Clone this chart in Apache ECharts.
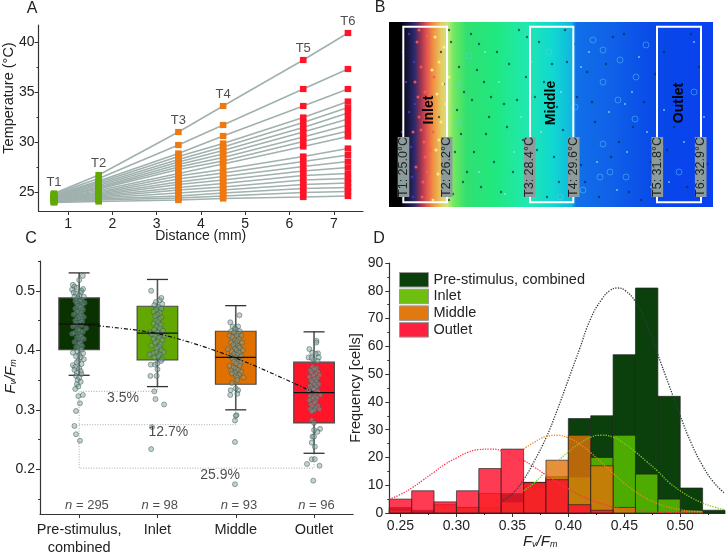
<!DOCTYPE html>
<html><head><meta charset="utf-8">
<style>html,body{margin:0;padding:0;background:#fff}#c{width:727px;height:553px}</style>
<script src="https://cdn.jsdelivr.net/npm/echarts@6/dist/echarts.min.js"></script>
</head><body><div id="c"></div>
<script>
// ---------- Panel A data ----------
const distances = [0.68, 1.69, 3.49, 4.5, 6.31, 7.32];
const tempLabels = ['T1','T2','T3','T4','T5','T6'];
const T1 = [24.85,24.8,24.7,24.65,24.6,24.55,24.5,24.45,24.4,24.35,24.3,24.3,24.25,24.2,24.2,24.15,24.1,24.05,24.0,23.95];
const T2 = [26.7,26.35,26.1,25.95,25.8,25.65,25.5,25.4,25.3,25.15,25.0,24.9,24.8,24.7,24.6,24.5,24.4,24.3,24.2,24.05];
const T3 = [31.0,29.7,28.85,28.55,28.25,28.0,27.75,27.5,27.25,26.85,26.6,26.3,26.0,25.75,25.45,25.2,24.9,24.6,24.4,24.2];
const T4 = [33.6,31.7,30.6,29.85,29.5,29.15,28.8,28.45,28.1,27.8,27.25,26.9,26.55,26.2,25.85,25.5,25.2,24.9,24.6,24.35];
const T5 = [38.2,35.3,33.6,32.45,31.95,31.45,31.0,30.5,30.05,29.55,28.55,28.05,27.55,27.1,26.65,26.2,25.75,25.35,24.95,24.5];
const T6 = [40.9,37.3,35.3,34.05,33.45,32.9,32.3,31.7,31.1,30.55,29.35,28.7,28.05,27.45,26.85,26.35,25.9,25.45,25.05,24.6];
const tempRows = [T1,T2,T3,T4,T5,T6];
const tempTop = [24.85,26.7,31.0,33.6,38.2,40.9];

// ---------- Panel B data (image-like map, specks in image pixels) ----------
const zoneLabels = ['Inlet','Middle','Outlet'];
const probeLabels = ['T1: 25.0°C','T2: 26.2°C','T3: 28.4°C','T4: 29.6°C','T5: 31.8°C','T6: 32.9°C'];
const rings = [[80,34],[221,150],[214,122],[214,60],[247,55],[246,97],[231,38],[229,78],[214,28],[257,23],[204,18],[194,168],[171,175],[69,100],[69,62],[271,125],[237,155],[211,155],[186,85],[290,150],[305,70],[160,30]];
const darkSpecks = [[62,20],[70,45],[75,70],[68,88],[72,112],[66,130],[78,150],[64,172],[90,22],[95,60],[100,95],[105,140],[112,170],[120,42],[128,78],[134,118],[142,150],[150,20],[155,60],[146,75],[160,100],[165,135],[170,160],[178,40],[182,120],[176,8],[188,75],[192,143],[198,50],[206,100],[210,175],[224,15],[230,120],[240,170],[255,80],[262,140],[275,30],[285,105],[298,165],[310,45],[52,30],[55,62],[50,95],[58,120],[54,150],[60,178],[85,130],[118,105],[138,15],[168,85],[82,12],[88,48],[83,78],[97,112],[92,165],[108,30],[115,82],[124,150],[130,8],[137,55],[148,128],[158,175],[163,42],[174,108],[185,22],[196,160],[203,80],[217,42],[222,135],[235,12],[244,105],[252,178],[266,52],[278,128],[292,75],[302,12],[318,142],[60,8],[74,160],[102,75]];
const lightSpecks = [[90,150],[110,60],[125,130],[152,110],[172,70],[200,30],[220,90],[238,130],[250,35],[268,70],[280,160],[295,120],[305,20],[315,95],[262,165],[243,70],[228,168],[208,140],[96,30],[132,95],[142,40],[116,172],[188,120],[192,45],[236,82],[258,110],[275,88],[310,170]];
const redSpecks = [[28,20],[32,45],[36,70],[30,95],[35,120],[38,150],[33,175],[40,32],[42,85],[44,110],[40,165],[30,8],[36,135],[26,60],[27,145],[34,160],[45,55],[24,110],[38,14],[29,75],[41,128],[32,108]];
const yellowSpecks = [[46,15],[50,40],[48,72],[52,100],[47,128],[53,160],[44,178],[55,25],[57,82],[56,140],[50,118],[43,48],[58,170],[60,55],[49,152],[54,62]];
const blueSpecks = [[14,30],[17,60],[20,90],[22,125],[16,150],[24,175],[20,12],[25,40],[13,110],[19,168],[26,82],[23,155]];

// ---------- Panel C data ----------
const groupLabels = ['Pre-stimulus,\ncombined','Inlet','Middle','Outlet'];
const boxStats = [[0,0.358,0.401,0.444,0.488,0.530],[1,0.339,0.384,0.429,0.474,0.519],[2,0.300,0.343,0.388,0.432,0.475],[3,0.227,0.278,0.329,0.380,0.431]];
const boxColors = ['#0a3200','#62a800','#e07000','#ff1428'];
const medianTrend = [[0,0.444],[1,0.428],[2,0.387],[3,0.329]];
const ptsPre = [[.047,.525],[0,.518],[-.08,.51],[-.06,.507],[-.03,.505],[.05,.503],[.03,.5],[-.09,.502],[-.07,.497],[-.04,.495],[.02,.497],[0,.492],[-.06,.49],[.06,.49],[-.02,.487],[.03,.485],[-.05,.483],[.01,.482],[.07,.48],[-.03,.478],[.04,.476],[-.01,.474],[.02,.472],[-.05,.47],[.05,.468],[0,.466],[-.03,.464],[.03,.462],[-.07,.46],[.01,.458],[.06,.456],[-.02,.455],[.02,.452],[-.05,.45],[.04,.448],[0,.446],[-.04,.444],[.03,.442],[-.08,.44],[.09,.437],[-.02,.436],[.01,.433],[.05,.431],[-.05,.43],[-.09,.428],[0,.426],[.03,.423],[-.03,.421],[.06,.419],[.01,.417],[-.06,.414],[.02,.412],[-.01,.41],[.04,.407],[-.04,.405],[0,.403],[.03,.401],[-.02,.398],[-.08,.396],[.05,.395],[0,.392],[-.04,.39],[.02,.388],[.06,.385],[-.01,.382],[-.03,.38],[.03,.377],[-.08,.375],[-.05,.372],[0,.37],[-.06,.367],[.02,.365],[-.03,.362],[.03,.36],[-.04,.357],[0,.354],[-.02,.35],[.02,.347],[-.03,.343],[-.01,.339],[-.05,.335],[.047,.325],[-.01,.323],[.01,.311],[-.04,.298],[-.06,.273],[-.04,.259],[.01,.248]];
const ptsInlet = [[-.08,.5],[.05,.488],[.03,.484],[-.02,.481],[.06,.478],[-.04,.476],[.01,.473],[.05,.47],[-.02,.468],[-.05,.465],[.03,.463],[0,.46],[-.03,.457],[.05,.455],[.02,.452],[-.02,.45],[.01,.447],[-.05,.445],[.04,.443],[-.01,.44],[.03,.437],[-.04,.435],[.07,.433],[-.1,.43],[0,.43],[-.07,.427],[.04,.426],[.09,.425],[-.03,.424],[.02,.421],[-.05,.419],[.06,.417],[0,.415],[-.03,.413],[.04,.41],[-.08,.408],[.02,.406],[-.01,.403],[.05,.4],[.08,.397],[-.02,.397],[.03,.393],[-.06,.395],[-.1,.393],[.01,.39],[-.04,.388],[.06,.385],[.045,.382],[-.085,.376],[-.03,.376],[0,.378],[-.09,.357],[-.01,.357],[0,.368],[-.04,.331],[-.025,.318],[.085,.309],[-.07,.271],[-.08,.234]];
const ptsMiddle = [[-.07,.447],[.047,.459],[-.04,.44],[-.01,.437],[.03,.44],[0,.435],[-.06,.432],[.05,.432],[-.02,.43],[.03,.428],[-.08,.425],[.07,.425],[.01,.424],[-.04,.422],[.04,.419],[-.01,.417],[.02,.415],[-.06,.413],[.08,.413],[0,.411],[-.03,.409],[.03,.407],[.05,.404],[-.01,.403],[.01,.4],[-.1,.402],[.09,.4],[-.05,.398],[.04,.396],[-.02,.394],[.02,.392],[.07,.39],[-.07,.39],[0,.388],[-.04,.386],[.03,.384],[-.02,.381],[.06,.379],[.01,.378],[-.08,.374],[.05,.374],[-.03,.371],[0,.369],[.03,.367],[-.06,.366],[.07,.364],[-.01,.363],[-.05,.361],[.04,.359],[0,.357],[.02,.354],[.1,.354],[.02,.35],[-.05,.345],[-.065,.333],[-.07,.325],[0,.336],[.03,.333],[.02,.327],[.01,.291],[0,.29],[-.01,.282],[-.01,.246],[-.01,.175]];
const ptsOutlet = [[.03,.416],[.03,.413],[-.06,.402],[-.025,.396],[.05,.395],[.02,.394],[-.07,.388],[-.03,.387],[.06,.388],[0,.384],[.045,.382],[-.02,.372],[.03,.37],[0,.368],[-.05,.366],[.05,.364],[-.03,.362],[.02,.36],[.07,.358],[-.01,.357],[-.06,.355],[.04,.353],[0,.351],[-.04,.349],[.03,.347],[-.02,.345],[.06,.343],[.01,.342],[-.05,.34],[.03,.338],[-.02,.336],[0,.334],[-.07,.333],[.05,.331],[-.03,.329],[.02,.327],[.08,.325],[-.05,.323],[0,.322],[.04,.32],[-.02,.318],[-.06,.316],[.02,.314],[0,.311],[-.04,.309],[.05,.307],[-.02,.305],[.02,.303],[-.05,.301],[.07,.301],[0,.299],[-.03,.297],[-.03,.283],[0,.278],[0,.266],[.077,.268],[.043,.263],[-.02,.255],[-.03,.245],[.01,.238],[0,.255],[-.03,.217],[.01,.217],[-.09,.209],[.07,.206],[-.01,.181]];
const bracketA = [[1,.339],[1,.331],[0,.331],[0,.202],[3,.202],[3,.227]];
const bracketB = [[0,.275],[2,.275],[2,.30]];
const pctLabels = [[.56,.32,'3.5%'],[1.14,.263,'12.7%'],[1.8,.191,'25.9%']];
const nLabels = [[.1,'295'],[1.03,'98'],[2.04,'93'],[3.03,'96']];

// ---------- Panel D data ----------
const binStart = [.24,.26,.28,.30,.32,.34,.36,.38,.40,.42,.44,.46,.48,.50,.52];
const histPre    = [2,1,0,2,0,7,11,13,34,35,57,81,42,9,1];
const histInlet  = [0,0,0,2,2,4,9,13,13,20,28,14,5,1,0];
const histMiddle = [1,0,3,2,7,4,11,19,28,17,2,0,0,0,0];
const histOutlet = [5,8,4,8,16,23,11,12,3,1,0,0,0,0,0];
const fitPre = [[.34,4],[.35,7],[.36,12],[.37,19],[.38,27],[.39,37],[.40,48],[.41,59],[.42,70],[.43,77],[.437,80],[.444,81],[.451,80],[.46,76],[.47,68],[.48,57],[.49,46],[.50,35],[.51,25],[.52,17],[.53,11],[.54,7]];
const fitInlet = [[.36,8],[.37,11],[.38,15],[.39,18.5],[.40,22],[.41,25],[.42,27.3],[.43,28],[.44,27.3],[.45,25],[.46,22],[.47,18.5],[.48,15],[.49,11],[.50,8],[.51,5.5],[.52,3.6],[.53,2.2],[.54,1.2]];
const fitMiddle = [[.36,23],[.37,25.6],[.38,27.5],[.39,28],[.40,27],[.41,24.8],[.42,21.7],[.43,18],[.44,14.3],[.45,10.7],[.46,7.7],[.47,5.2],[.48,3.4],[.49,2.1],[.50,1.2],[.51,.7],[.52,.4]];
const fitOutlet = [[.24,5],[.25,6.7],[.26,9],[.27,11.8],[.28,14.7],[.29,17.6],[.30,19.8],[.31,21.8],[.32,22.8],[.33,23],[.34,22.5],[.35,21],[.36,19],[.37,16.4],[.38,13.7],[.39,11],[.40,8.7],[.41,6.5],[.42,4.7],[.43,3.3],[.44,2.2],[.45,1.4],[.46,.9],[.47,.5],[.48,.3],[.50,.1],[.52,0]];
const legendNames = ['Pre-stimulus, combined','Inlet','Middle','Outlet'];

// ---------- Tick lists ----------
const ticksAx = [1,2,3,4,5,6,7], ticksAy = [25,30,35,40], minorAy = [27.5,32.5,37.5];
const ticksCy = [.2,.3,.4,.5], minorCy = [.15,.25,.35,.45,.55];
const ticksDx = [.25,.30,.35,.40,.45,.50], minorDx = [.275,.325,.375,.425,.475,.525];

const FONT = '"Liberation Sans", Arial, sans-serif';
const AXC = '#333';
const chart = echarts.init(document.getElementById('c'), null, {renderer:'canvas'});

const hist = (vals) => vals.map((v,i)=>[binStart[i], binStart[i]+.02, v]);
function histRender(fill){
  return function(params, api){
    const a = api.coord([api.value(0), api.value(2)]);
    const b = api.coord([api.value(1), 0]);
    if (api.value(2) <= 0) return null;
    return {type:'rect', shape:{x:a[0], y:a[1], width:b[0]-a[0], height:b[1]-a[1]},
            style:{fill:fill, stroke:'rgba(35,35,35,.75)', lineWidth:.9}};
  };
}
function boxRender(params, api){
  const i = api.value(0);
  const c = v => api.coord([i, v]);
  const x = c(0)[0], lo=c(api.value(1))[1], q1=c(api.value(2))[1], q3=c(api.value(4))[1], hi=c(api.value(5))[1];
  const ln = (x1,y1,x2,y2,s,w)=>({type:'line',shape:{x1,y1,x2,y2},style:{stroke:s,lineWidth:w}});
  return {type:'group',children:[
    ln(x,lo,x,q1,'#555',1.6), ln(x,q3,x,hi,'#555',1.6),
    ln(x-10.5,lo,x+10.5,lo,'#333',1.3), ln(x-10.5,hi,x+10.5,hi,'#333',1.3),
    {type:'rect',shape:{x:x-20.3,y:q3,width:40.6,height:q1-q3},style:{fill:boxColors[i],stroke:'#4a4a4a',lineWidth:1.2}}
  ]};
}
function medianRender(params, api){
  const i = api.value(0); const p = api.coord([i, api.value(3)]);
  return {type:'line',shape:{x1:p[0]-20.3,y1:p[1],x2:p[0]+20.3,y2:p[1]},style:{stroke:'#111',lineWidth:1.3}};
}
const fvfm = {f:{fontStyle:'italic',fontSize:15,fontFamily:FONT,color:'#222'},
              s:{fontStyle:'italic',fontSize:9,fontFamily:FONT,color:'#222',verticalAlign:'bottom',lineHeight:9,padding:[5,0,0,0]}};
const fvfmText = '{f|F}{s|v}{f|/F}{s|m}';

const valueAxisBase = {type:'value',splitLine:{show:false},nameMoveOverlap:false,
  axisLine:{show:true,onZero:false,lineStyle:{color:AXC,width:1.2}},
  axisTick:{show:true,length:4,lineStyle:{color:AXC,width:1}},
  axisLabel:{color:'#222',fontFamily:FONT,fontSize:14,margin:6}};
const minorAxis = (o)=>Object.assign({type:'value',splitLine:{show:false},axisLine:{show:false,onZero:false},axisLabel:{show:false}},o);

const series = [];
// Panel A lines
T1.forEach((_,i)=>series.push({type:'line',xAxisIndex:0,yAxisIndex:0,symbol:'none',silent:true,z:2,
  lineStyle:{color:'#a0b1ae',width:1.6},data:distances.map((x,k)=>[x,tempRows[k][i]])}));
const markerColors = ['#62a800','#62a800','#f07810','#f07810','#ff1428','#ff1428'];
distances.forEach((x,k)=>series.push({type:'scatter',xAxisIndex:0,yAxisIndex:0,symbol:'rect',symbolSize:[6.6,6.2],z:3,
  itemStyle:{color:markerColors[k],opacity:1},data:tempRows[k].map(v=>[x,v])}));
series.push({type:'scatter',xAxisIndex:0,yAxisIndex:0,symbolSize:0,z:4,
  data:distances.map((x,k)=>({value:[x,tempTop[k]],label:{show:true,formatter:tempLabels[k],position:'top',distance:5,color:'#222',fontFamily:FONT,fontSize:13}}))});
// Panel B specks
const speck = (d,col,sz,op)=>({type:'scatter',xAxisIndex:1,yAxisIndex:2,symbolSize:sz,z:2,silent:true,itemStyle:{color:col,opacity:op},data:d});
series.push(speck(darkSpecks,'#06304a',2.4,.7), speck(lightSpecks,'#90f0f0',1.8,.8), speck(redSpecks,'#ff5a50',3,.9), speck(yellowSpecks,'#fff090',3,.9), speck(blueSpecks,'#4040c0',2.6,.8));
series.push({type:'scatter',xAxisIndex:1,yAxisIndex:2,symbolSize:6,z:2,silent:true,itemStyle:{color:'transparent',borderColor:'rgba(90,210,240,.6)',borderWidth:1},data:rings});
// Panel C
series.push({type:'line',xAxisIndex:3,yAxisIndex:3,symbol:'none',silent:true,z:2,lineStyle:{color:'#a8a8a8',width:1,type:[1,1.6]},data:bracketA});
series.push({type:'line',xAxisIndex:3,yAxisIndex:3,symbol:'none',silent:true,z:2,lineStyle:{color:'#a8a8a8',width:1,type:[1,1.6]},data:bracketB});
series.push({type:'custom',xAxisIndex:3,yAxisIndex:3,z:3,silent:true,renderItem:boxRender,data:boxStats,encode:{x:0,y:[1,2,3,4,5]}});
[ptsPre,ptsInlet,ptsMiddle,ptsOutlet].forEach((pts,i)=>series.push({type:'scatter',xAxisIndex:3,yAxisIndex:3,symbolSize:5,z:4,silent:true,
  itemStyle:{color:'rgba(130,160,155,.6)',borderColor:'rgba(60,90,85,.8)',borderWidth:.8},data:pts.map(p=>[i+p[0],p[1]])}));
series.push({type:'custom',xAxisIndex:3,yAxisIndex:3,z:5,silent:true,renderItem:medianRender,data:boxStats,encode:{x:0,y:3}});
series.push({type:'line',xAxisIndex:3,yAxisIndex:3,symbol:'none',smooth:.3,silent:true,z:6,lineStyle:{color:'#111',width:1.2,type:[4,2,1,2]},data:medianTrend});
series.push({type:'scatter',xAxisIndex:3,yAxisIndex:3,symbolSize:0,z:7,silent:true,
  data:pctLabels.map(p=>({value:[p[0],p[1]],label:{show:true,formatter:p[2],position:'inside',color:'#222',fontFamily:FONT,fontSize:14}}))});
series.push({type:'scatter',xAxisIndex:3,yAxisIndex:3,symbolSize:0,z:7,silent:true,
  data:nLabels.map(p=>({value:[p[0],.14],label:{show:true,position:'inside',formatter:'{i|n} = '+p[1],color:'#222',fontFamily:FONT,fontSize:13,rich:{i:{fontStyle:'italic',fontFamily:FONT,fontSize:13,color:'#222'}}}}))});
// Panel D
const histFills = ['rgb(11,63,11)','rgba(90,190,0,.85)','rgba(225,115,10,.8)','rgba(255,15,45,.82)'];
[histPre,histInlet,histMiddle,histOutlet].forEach((h,i)=>series.push({type:'custom',name:legendNames[i],xAxisIndex:4,yAxisIndex:5,z:2+i*.01,silent:true,
  itemStyle:{color:histFills[i]},renderItem:histRender(histFills[i]),data:hist(h),encode:{x:[0,1],y:2}}));
[[fitPre,'#2c3f3a'],[fitInlet,'#7fcc20'],[fitMiddle,'#ee8a20'],[fitOutlet,'#ff3050']].forEach(f=>series.push({type:'line',xAxisIndex:4,yAxisIndex:5,symbol:'none',smooth:.5,silent:true,z:3,
  lineStyle:{color:f[1],width:1.3,type:[1.3,1.3]},data:f[0]}));

// Graphic elements for panel letters and panel B image frame
const imgX=389, imgY=22, imgW=324, imgH=185;
const stops=[[0,'#000'],[.033,'#000'],[.053,'#101030'],[.08,'#302a70'],[.095,'#903050'],[.115,'#e05050'],[.136,'#f09040'],[.16,'#e8c860'],[.18,'#c8e880'],[.2,'#70e860'],[.24,'#30e070'],[.33,'#20e880'],[.425,'#20e8b0'],[.506,'#10d8d0'],[.563,'#10b8e0'],[.578,'#1070e8'],[.69,'#1060e8'],[.825,'#0848e8'],[1,'#0a40f0']];
const letter=(t,x,y)=>({type:'text',x,y,style:{text:t,font:'16px '+FONT,fill:'#222',align:'center',verticalAlign:'middle'}});
const graphicEls=[letter('A',32,9),letter('B',380,8),letter('C',31,239),letter('D',379,239),
 {type:'rect',z:0,shape:{x:imgX,y:imgY,width:imgW,height:imgH},style:{fill:new echarts.graphic.LinearGradient(0,0,1,0,stops.map(s=>({offset:s[0],color:s[1]})))}}];
[[403.3,447],[530,573.3],[657,701]].forEach(r=>graphicEls.push({type:'rect',z:10,shape:{x:r[0],y:26.7,width:r[1]-r[0],height:175.6},style:{fill:'none',stroke:'#fff',lineWidth:2}}));
[[428.7,110],[551,103],[679,103]].forEach((p,i)=>graphicEls.push({type:'text',z:11,x:p[0],y:p[1],rotation:Math.PI/2,style:{text:zoneLabels[i],font:'bold 14px '+FONT,fill:'#000',align:'center',verticalAlign:'middle'}}));
[403.5,446.7,529.7,573.7,657.3,700.7].forEach((x,i)=>{
  graphicEls.push({type:'rect',z:12,shape:{x:x-5.8,y:137,width:11.6,height:60},style:{fill:'#8c9c9c'}});
  graphicEls.push({type:'text',z:13,x:x,y:167,rotation:Math.PI/2,style:{text:probeLabels[i],font:'12.5px '+FONT,fill:'#222',align:'center',verticalAlign:'middle'}});
});

const option = {
  animation:false, backgroundColor:'#fff',
  textStyle:{fontFamily:FONT},
  grid:[
    {left:38.5,top:25,width:324.5,height:186,outerBoundsMode:'none'},
    {left:imgX,top:imgY,width:imgW,height:imgH,outerBoundsMode:'none'},
    {left:40,top:261,width:313.2,height:253,outerBoundsMode:'none'},
    {left:389.3,top:263,width:335.7,height:250,outerBoundsMode:'none'}
  ],
  xAxis:[
    Object.assign({},valueAxisBase,{gridIndex:0,min:.33,max:7.66,name:'Distance (mm)',nameLocation:'middle',nameGap:18,nameTextStyle:{color:'#222',fontFamily:FONT,fontSize:14},
      axisTick:{show:true,length:4,customValues:ticksAx,lineStyle:{color:AXC}},axisLabel:Object.assign({},valueAxisBase.axisLabel,{customValues:ticksAx,formatter:v=>String(Math.round(v))})}),
    {type:'value',gridIndex:1,show:false,min:0,max:imgW},
    {type:'category',gridIndex:2,data:groupLabels,boundaryGap:true,axisLine:{show:true,onZero:false,lineStyle:{color:AXC,width:1.2}},axisTick:{show:true,alignWithLabel:true,length:4,lineStyle:{color:AXC}},
      axisLabel:{color:'#222',fontFamily:FONT,fontSize:14.5,lineHeight:18,margin:7,interval:0},splitLine:{show:false}},
    {type:'value',gridIndex:2,show:false,min:-.5,max:3.5},
    Object.assign({},valueAxisBase,{gridIndex:3,min:.24,max:.54,name:fvfmText,nameLocation:'middle',nameGap:21,nameTextStyle:{padding:[0,34,0,0],rich:fvfm},
      axisTick:{show:true,length:4,customValues:ticksDx,lineStyle:{color:AXC}},axisLabel:Object.assign({},valueAxisBase.axisLabel,{customValues:ticksDx,formatter:v=>v.toFixed(2),hideOverlap:false})}),
    minorAxis({gridIndex:3,position:'bottom',min:.24,max:.54,axisTick:{show:true,length:2,customValues:minorDx,lineStyle:{color:AXC}}})
  ],
  yAxis:[
    Object.assign({},valueAxisBase,{gridIndex:0,min:23.1,max:41.7,name:'Temperature (°C)',nameLocation:'middle',nameGap:22,nameRotate:90,nameTextStyle:{color:'#222',fontFamily:FONT,fontSize:14.5,padding:[0,0,0,40]},
      axisTick:{show:true,length:4,customValues:ticksAy,lineStyle:{color:AXC}},axisLabel:Object.assign({},valueAxisBase.axisLabel,{margin:4,customValues:ticksAy,formatter:v=>String(Math.round(v))})}),
    minorAxis({gridIndex:0,position:'left',min:23.1,max:41.7,axisTick:{show:true,length:2,customValues:minorAy,lineStyle:{color:AXC}}}),
    {type:'value',gridIndex:1,show:false,min:0,max:imgH,inverse:true},
    Object.assign({},valueAxisBase,{gridIndex:2,min:.125,max:.55,name:fvfmText,nameLocation:'middle',nameGap:22,nameRotate:90,nameTextStyle:{padding:[0,0,0,22],rich:fvfm},
      axisTick:{show:true,length:4,customValues:ticksCy,lineStyle:{color:AXC}},axisLabel:Object.assign({},valueAxisBase.axisLabel,{margin:5,customValues:ticksCy,formatter:v=>v.toFixed(1)})}),
    minorAxis({gridIndex:2,position:'left',min:.125,max:.55,axisTick:{show:true,length:2,customValues:minorCy,lineStyle:{color:AXC}}}),
    Object.assign({},valueAxisBase,{gridIndex:3,min:0,max:90,interval:10,name:'Frequency [cells]',nameLocation:'middle',nameGap:26,nameRotate:90,nameTextStyle:{color:'#222',fontFamily:FONT,fontSize:14.5},
      minorTick:{show:true,splitNumber:2,length:2,lineStyle:{color:AXC}}})
  ],
  legend:{left:399,top:272,orient:'vertical',itemWidth:29,itemHeight:14.5,itemGap:1.2,padding:0,selectedMode:false,icon:'rect',
    textStyle:{color:'#222',fontFamily:FONT,fontSize:14.5},
    data:[{name:legendNames[0],itemStyle:{color:'#0b3f0b',borderColor:'#999',borderWidth:1}},
          {name:legendNames[1],itemStyle:{color:'#6fbf10',borderColor:'#999',borderWidth:1}},
          {name:legendNames[2],itemStyle:{color:'#e07a10',borderColor:'#999',borderWidth:1}},
          {name:legendNames[3],itemStyle:{color:'#ff2040',borderColor:'#999',borderWidth:1}}]},
  graphic:{elements:graphicEls},
  series
};
chart.setOption(option);
</script></body></html>
